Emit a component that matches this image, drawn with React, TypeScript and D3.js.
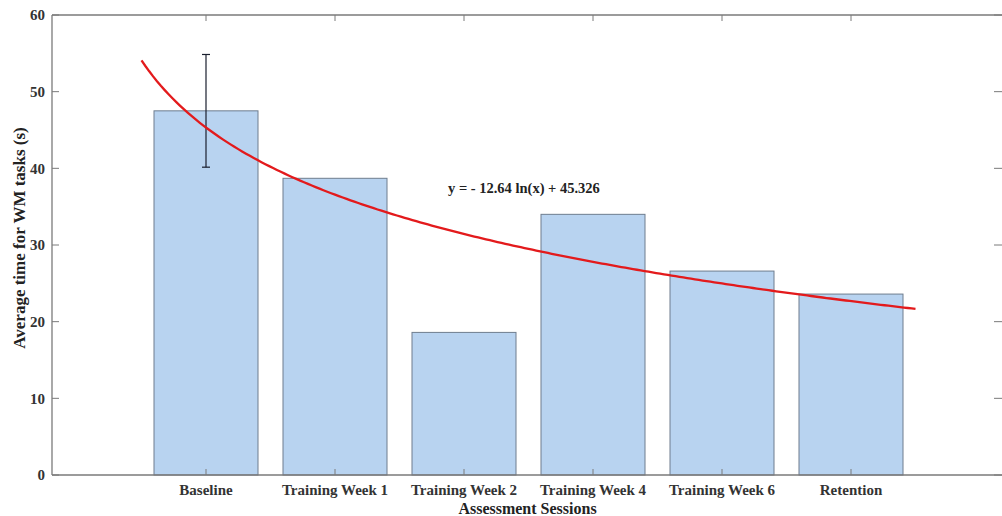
import React from "react";
import * as d3 from "d3";

const categories = ["Baseline", "Training Week 1", "Training Week 2", "Training Week 4", "Training Week 6", "Retention"];
const values = [47.5, 38.7, 18.6, 34.0, 26.6, 23.6];
const errors = [7.35, 0, 0, 0, 0, 0];
const yTicks = [0, 10, 20, 30, 40, 50, 60];
const fitA = -12.64;
const fitB = 45.326;
const fitRange = [0.5, 6.5];
const equationLabel = "y = - 12.64 ln(x) + 45.326";

const W = 1002, H = 516;
const left = 52, right = 1003, top = 15, bottom = 475;
const font = "'Liberation Serif', 'Times New Roman', serif";

export default function App() {
  const x = d3.scaleLinear().domain([1, 6]).range([206, 851]);
  const y = d3.scaleLinear().domain([0, 60]).range([bottom, top]);
  const barW = 104;
  const axisColor = "#7a7a7a";

  const fitPts = d3.range(0, 201).map(i => {
    const v = fitRange[0] + (fitRange[1] - fitRange[0]) * i / 200;
    return [v, fitA * Math.log(v) + fitB] as [number, number];
  });
  const line = d3.line<[number, number]>().x(d => x(d[0])).y(d => y(d[1])).curve(d3.curveLinear);

  return (
    <svg width={W} height={H} style={{ position: "absolute", left: 0, top: 0, background: "#fff" }}>
      {values.map((v, i) => (
        <rect key={i} x={x(i + 1) - barW / 2} y={y(v)} width={barW} height={y(0) - y(v)}
          fill="#b8d3f0" stroke="#6e7d8e" strokeWidth={1} />
      ))}
      <line x1={left} x2={right} y1={top} y2={top} stroke={axisColor} strokeWidth={1.3} />
      <line x1={left} x2={right} y1={bottom} y2={bottom} stroke={axisColor} strokeWidth={1.3} />
      <line x1={left} x2={left} y1={top} y2={bottom} stroke={axisColor} strokeWidth={1.3} />
      <line x1={right} x2={right} y1={top} y2={bottom} stroke={axisColor} strokeWidth={1.3} />
      {yTicks.map(t => (
        <g key={t}>
          <line x1={left} x2={left + 7} y1={y(t)} y2={y(t)} stroke={axisColor} strokeWidth={1} />
          <line x1={right - 9} x2={right} y1={y(t)} y2={y(t)} stroke={axisColor} strokeWidth={1} />
          <text x={45} y={y(t)} dy="0.35em" textAnchor="end" fontFamily={font} fontWeight="bold" fontSize={15} fill="#333">{t}</text>
        </g>
      ))}
      {categories.map((c, i) => (
        <g key={c}>
          <line x1={x(i + 1)} x2={x(i + 1)} y1={top} y2={top + 6} stroke={axisColor} strokeWidth={1} />
          <line x1={x(i + 1)} x2={x(i + 1)} y1={bottom} y2={bottom - 6} stroke={axisColor} strokeWidth={1} />
          <text x={x(i + 1)} y={495} textAnchor="middle" fontFamily={font} fontWeight="bold" fontSize={15} fill="#333">{c}</text>
        </g>
      ))}
      {values.map((v, i) => errors[i] > 0 ? (
        <g key={"e" + i} stroke="#1a1f2e" strokeWidth={1.2}>
          <line x1={x(i + 1)} x2={x(i + 1)} y1={y(v + errors[i])} y2={y(v - errors[i])} />
          <line x1={x(i + 1) - 4} x2={x(i + 1) + 4} y1={y(v + errors[i])} y2={y(v + errors[i])} />
          <line x1={x(i + 1) - 4} x2={x(i + 1) + 4} y1={y(v - errors[i])} y2={y(v - errors[i])} />
        </g>
      ) : null)}
      <path d={line(fitPts) || ""} fill="none" stroke="#e31a1c" strokeWidth={2.3} />
      <text x={448} y={193} fontFamily={font} fontWeight="bold" fontSize={14.5} fill="#222">{equationLabel}</text>
      <text x={(left + right) / 2} y={514} textAnchor="middle" fontFamily={font} fontWeight="bold" fontSize={16} fill="#222">Assessment Sessions</text>
      <text transform={`translate(25, 238) rotate(-90)`} textAnchor="middle" fontFamily={font} fontWeight="bold" fontSize={17} fill="#222">Average time for WM tasks (s)</text>
    </svg>
  );
}
